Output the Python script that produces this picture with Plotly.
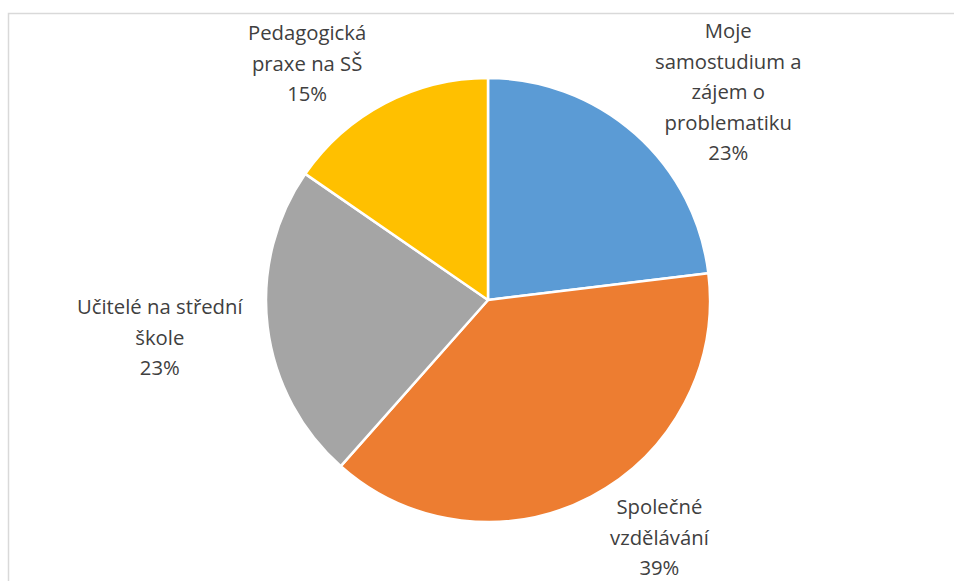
import math
import plotly.graph_objects as go

# ---- data ----
categories = [
    "Moje samostudium a zájem o problematiku",
    "Společné vzdělávání",
    "Učitelé na střední škole",
    "Pedagogická praxe na SŠ",
]
label_lines = [
    ["Moje", "samostudium a", "zájem o", "problematiku"],
    ["Společné", "vzdělávání"],
    ["Učitelé na střední", "škole"],
    ["Pedagogická", "praxe na SŠ"],
]
shares = [23.1, 38.5, 23.1, 15.4]          # slice sizes
pct_labels = ["23%", "39%", "23%", "15%"]  # labels as printed
colors = ["#5B9BD5", "#ED7D31", "#A5A5A5", "#FFC000"]

# ---- layout constants (pixels) ----
W, H = 954, 581
CX, CY, R = 488, 300, 222
label_shift = [(93, -43), (69, 40), (-108, 10), (-78, -41)]
TEXT_PX = 20.3
LINE_PX = 30.5

fig = go.Figure(
    go.Pie(
        labels=categories,
        values=shares,
        sort=False,
        direction="clockwise",
        rotation=0,
        marker=dict(colors=colors, line=dict(color="white", width=2.5)),
        textinfo="none",
        hoverinfo="label+percent",
        showlegend=False,
        domain=dict(
            x=[(CX - R) / W, (CX + R) / W],
            y=[(H - CY - R) / H, (H - CY + R) / H],
        ),
    )
)

total = sum(shares)
cum = 0.0
annotations = []
for lines, v, pl, (dx, dy) in zip(label_lines, shares, pct_labels, label_shift):
    mid = (cum + v / 2) / total * 2 * math.pi
    cum += v
    ex = CX + R * math.sin(mid)
    ey = CY - R * math.cos(mid)
    txt = "<br>".join(
        f'<span style="font-size:{TEXT_PX}px">{s}</span>' for s in lines + [pl]
    )
    annotations.append(
        dict(
            x=(ex + dx) / W,
            y=1 - (ey + dy) / H,
            xref="paper",
            yref="paper",
            text=txt,
            showarrow=False,
            align="center",
            xanchor="center",
            yanchor="middle",
            borderpad=0,
            font=dict(family="Open Sans", size=LINE_PX / 1.3, color="#404040"),
        )
    )

fig.update_layout(
    width=W,
    height=H,
    margin=dict(l=0, r=0, t=0, b=0),
    paper_bgcolor="white",
    plot_bgcolor="white",
    annotations=annotations,
    shapes=[
        dict(
            type="rect",
            xref="paper",
            yref="paper",
            x0=8.5 / W,
            x1=1.02,
            y0=-0.02,
            y1=1 - 13.5 / H,
            line=dict(color="#D9D9D9", width=1.5),
            fillcolor="rgba(0,0,0,0)",
        )
    ],
)

fig.write_html(
    "out.html",
    config={"displayModeBar": False},
    post_script="document.body.style.margin='0';document.body.style.overflow='hidden';",
)
